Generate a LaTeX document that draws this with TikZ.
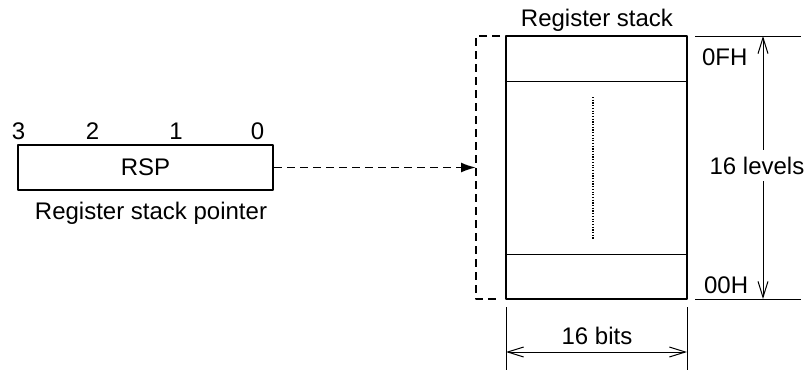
\documentclass[tikz,border=0pt]{standalone}
\usepackage{fontspec}
\setmainfont{Liberation Sans}
\usetikzlibrary{arrows.meta,positioning}

\begin{document}
\begin{tikzpicture}[x=.5pt,y=-.5pt, font=\fontsize{12}{14}\selectfont, line join=round,
    regbox/.style={draw,line width=1.2pt,inner sep=0pt},
    guide/.style={line width=.5pt},
    dashline/.style={line width=.9pt,dash pattern=on 4pt off 2.5pt},
    dim/.style={line width=.5pt,{Straight Barb[length=8pt,width=5pt]}-{Straight Barb[length=8pt,width=5pt]}}]
    \useasboundingbox (0,0) rectangle (810,371);
    % pointer register
    \node (rsp) [regbox, minimum width=127.5pt, minimum height=22.5pt] at (145.5,167.5) {RSP};
    \foreach \x/\b in {18.5/3, 92.5/2, 176/1, 257.5/0}
        \node (bit\b) at (\x,131.5) {\b};
    \node (rsplabel) at (151,213.5) {Register stack pointer};
    % the stack itself
    \node (stack) [regbox, minimum width=90.5pt, minimum height=131.5pt] at (596.5,167.5) {};
    \node (stacklabel) at (597,20.5) {Register stack};
    \draw[guide] (stack.west |- 0,81) -- (stack.east |- 0,81);
    \draw[guide] (stack.west |- 0,254) -- (stack.east |- 0,254);
    \draw[line width=.6pt, dash pattern=on .6pt off .75pt] (593,97) -- (593,240);
    \node (top) [anchor=west] at (695,57.5) {0FH};
    \node (bottom) [anchor=west] at (697,285) {00H};
    % dashed bracket and pointer arrow
    \coordinate (bt) at (476,36);
    \coordinate (bb) at (476,299);
    \coordinate (tip) at (476,167.5);
    \draw[dashline] (500,36) -- (bt) -- (bb) -- (500,299);
    \draw[dashline, -{Latex[length=7.5pt,width=5pt]}] (rsp.east) -- (tip);
    % dimensions
    \draw[guide] (695,36) -- (801,36);
    \draw[guide] (695,299) -- (801,299);
    \draw[guide] (506,307) -- (506,370);
    \draw[guide] (687,307) -- (687,370);
    \coordinate (lt) at (763,36);
    \coordinate (lb) at (763,299);
    \coordinate (wl) at (506,352);
    \coordinate (wr) at (687,352);
    \draw[dim] (lt) -- (lb);
    \draw[dim] (wl) -- (wr);
    \node (levels) [fill=white] at (757,165.5) {16 levels};
    \node (bits) at (597,335.5) {16 bits};
\end{tikzpicture}
\end{document}
